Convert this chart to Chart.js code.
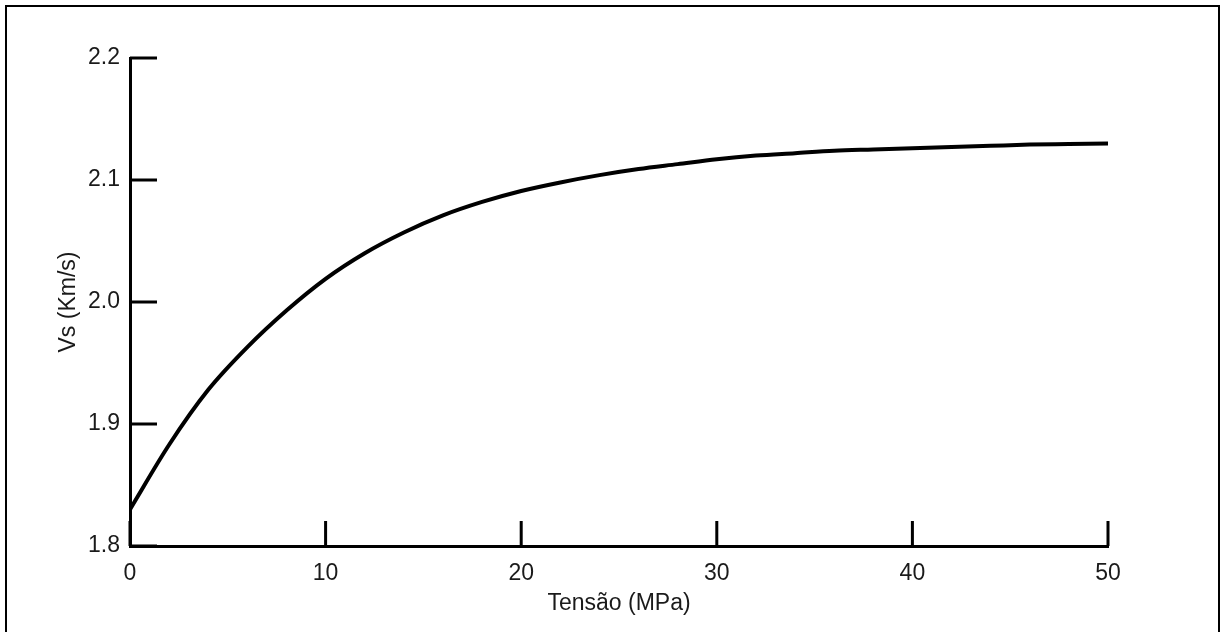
<!DOCTYPE html>
<html lang="pt">
<head>
<meta charset="UTF-8">
<script src="https://cdn.jsdelivr.net/npm/chart.js"></script>
<style>
  html, body { margin: 0; padding: 0; background: #fff; overflow: hidden; }
  #wrap { position: absolute; left: 0; top: 0; width: 1223px; height: 632px; }
  #frame { position: absolute; left: 5px; top: 5px; width: 1211px; height: 700px; border: 2px solid #000; }
</style>
</head>
<body>
<div id="frame"></div>
<div id="wrap"><canvas id="myChart" width="1223" height="632"></canvas></div>
<script>
// Tensão (MPa) and Vs (Km/s)
const tensao = [0, 2, 4, 6, 8, 10, 12, 14, 16, 18, 20, 22, 24, 26, 28, 30, 32, 34, 36, 38, 40, 42, 44, 46, 48, 50];
const vs = [1.830, 1.883, 1.928, 1.963, 1.993, 2.019, 2.040, 2.057, 2.071, 2.082, 2.091, 2.098, 2.104, 2.109, 2.113,
            2.117, 2.120, 2.122, 2.124, 2.125, 2.126, 2.127, 2.128, 2.129, 2.1295, 2.130];
const xTicks = [0, 10, 20, 30, 40, 50];
const yTicks = [1.8, 1.9, 2.0, 2.1, 2.2];

const textColor = '#1a1a1a';
const font = { family: '"Liberation Sans", Arial, sans-serif', size: 23 };

// tick marks pointing into the plot, placed by the scales
const innerTicks = {
    id: 'innerTicks',
    afterDraw(chart) {
        const ctx = chart.ctx;
        const xs = chart.scales.x, ys = chart.scales.y;
        ctx.save();
        ctx.strokeStyle = '#000';
        ctx.lineWidth = 3;
        ctx.beginPath();
        xTicks.forEach(v => {
            const px = xs.getPixelForValue(v);
            ctx.moveTo(px, chart.chartArea.bottom);
            ctx.lineTo(px, chart.chartArea.bottom - 25);
        });
        yTicks.forEach(v => {
            const py = ys.getPixelForValue(v);
            ctx.moveTo(chart.chartArea.left, py);
            ctx.lineTo(chart.chartArea.left + 27, py);
        });
        ctx.stroke();
        ctx.restore();
    }
};

const ctx = document.getElementById('myChart').getContext('2d');
new Chart(ctx, {
    type: 'line',
    data: {
        datasets: [{
            data: tensao.map((t, i) => ({ x: t, y: vs[i] })),
            borderColor: '#000',
            borderWidth: 4,
            pointRadius: 0,
            cubicInterpolationMode: 'monotone',
            fill: false
        }]
    },
    options: {
        responsive: false,
        animation: false,
        layout: { padding: { top: 58, right: 115, left: 0, bottom: 0 } },
        plugins: { legend: { display: false }, tooltip: { enabled: false } },
        scales: {
            x: {
                type: 'linear',
                min: 0, max: 50,
                afterFit(scale) { scale.height = 86; },
                afterBuildTicks(scale) { scale.ticks = xTicks.map(v => ({ value: v })); },
                grid: { drawOnChartArea: false, drawTicks: false, color: 'rgba(0,0,0,0)' },
                border: { display: true, color: '#000', width: 3 },
                ticks: { color: textColor, font: font, padding: 14, maxRotation: 0 },
                title: { display: true, text: 'Tensão (MPa)', color: textColor, font: font, padding: { top: 0, bottom: 15 } }
            },
            y: {
                type: 'linear',
                min: 1.8, max: 2.2,
                afterFit(scale) { scale.width = 130; },
                afterBuildTicks(scale) { scale.ticks = yTicks.map(v => ({ value: v })); },
                grid: { drawOnChartArea: false, drawTicks: false, color: 'rgba(0,0,0,0)' },
                border: { display: true, color: '#000', width: 3 },
                ticks: { color: textColor, font: font, padding: 10, callback: v => v.toFixed(1) },
                title: { display: true, text: 'Vs (Km/s)', color: textColor, font: font, padding: { top: 55, bottom: 0 } }
            }
        }
    },
    plugins: [innerTicks]
});
</script>
</body>
</html>
